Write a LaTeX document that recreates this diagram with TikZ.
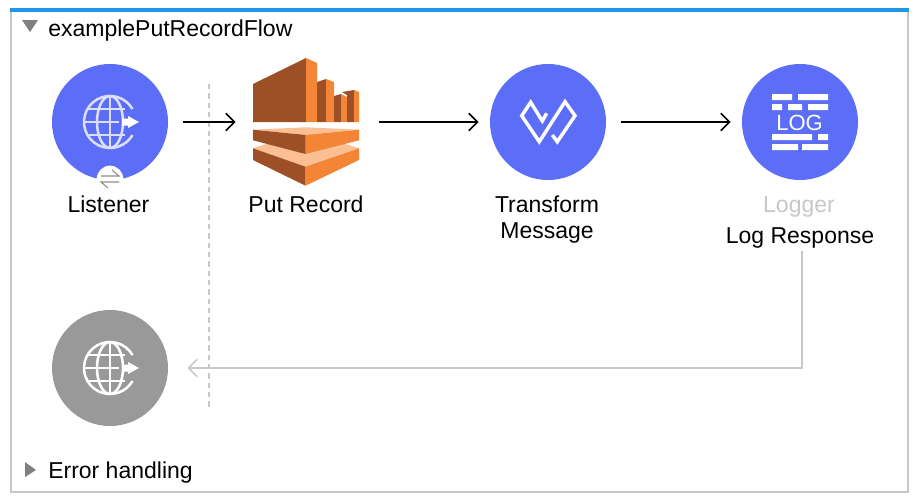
\documentclass[tikz,border=0pt]{standalone}
\usepackage{fontspec}
\setmainfont{Liberation Sans}
\usetikzlibrary{arrows.meta}
\definecolor{muleblue}{HTML}{5C6EF8}
\definecolor{framegray}{HTML}{C8C8C8}
\definecolor{topblue}{HTML}{2196E8}
\definecolor{awsdark}{HTML}{9D5025}
\definecolor{awslight}{HTML}{F58536}
\definecolor{awspale}{HTML}{FBBF93}
\tikzset{
	flownode/.style={circle,fill=muleblue,minimum size=87pt,inner sep=0pt},
	errornode/.style={flownode,fill=black!40},
	flowlabel/.style={font=\fontsize{17.25}{19.5}\selectfont,align=center,inner sep=0pt,anchor=base},
	flowarrow/.style={-{Straight Barb[length=6.5pt,width=13pt]},line width=1.3pt,shorten <=11.25pt,shorten >=8.25pt},
	returnarrow/.style={-{Straight Barb[length=6.5pt,width=13pt]},framegray,line width=1.3pt,shorten >=14.25pt},
	pics/globeicon/.style={code={
		\draw[line width=1.9pt,#1] (22.5,-13) arc[start angle=-30,end angle=-330,radius=26];
		\draw[line width=1.9pt,#1] (0,-26) arc[start angle=-90,end angle=-270,x radius=13,y radius=26];
		\draw[line width=1.9pt,#1] (0,-26) arc[start angle=-90,end angle=90,x radius=13,y radius=26];
		\draw[line width=1.9pt,#1] (0,-26) -- (0,26);
		\draw[line width=1.9pt,#1] (-26,0) -- (9,0);
		\draw[line width=1.9pt,#1] (-22,-13) -- (15,-13) (-22,13) -- (15,13);
	}},
}
\begin{document}
\begin{tikzpicture}[x=0.75pt,y=-0.75pt]
	\useasboundingbox (0,0) rectangle (918,500);
	\fill[white] (0,0) rectangle (918,500);
	% frame
	\draw[framegray,line width=1.5pt] (11,12) -- (11,492) -- (908,492) -- (908,12);
	\fill[topblue] (10,8) rectangle (909,12);
	\fill[black!50] (22,20) -- (38,20) -- (30,32) -- cycle;
	\fill[black!50] (25,462) -- (36,470) -- (25,477) -- cycle;
	\node[flowlabel,anchor=base west] (flowname) at (48,36) {examplePutRecordFlow};
	\node[flowlabel,anchor=base west] (errorname) at (48,478) {Error handling};
	% nodes
	\node[flownode] (listener) at (110,122) {};
	\node[errornode] (errorsource) at (110,368) {};
	\node[minimum width=79.5pt,minimum height=94pt,inner sep=0pt] (putrecord) at (306,122) {};
	\node[flownode] (transform) at (548,122) {};
	\node[flownode] (logger) at (800,122) {};
	\node[circle,fill=white,minimum size=20pt,inner sep=0pt] (badge) at (110,179) {};
	\node[flowlabel] (listenerlabel) at (108.5,212) {Listener};
	\node[flowlabel] (putrecordlabel) at (306,212) {Put Record};
	\node[flowlabel,anchor=north] (transformlabel) at (547,195.5) {Transform\\Message};
	\node[flowlabel,text=framegray] (loggerlabel) at (799,212) {Logger};
	\node[flowlabel] (responselabel) at (800,243) {Log Response};
	% icons
	\draw[black!45,line width=0.8pt] (101,176) -- (119,176) -- (112,170) (119,182) -- (101,182) -- (108,188);
	\pic at (110,122) {globeicon=white!78!muleblue};
	\pic at (110,368) {globeicon=white};
	\fill[white] (122,118.5) -- (128,118.5) -- (128,116) -- (139,122) -- (128,128) -- (128,125.5) -- (122,125.5) -- cycle;
	\fill[white] (122,364.5) -- (128,364.5) -- (128,362) -- (139,368) -- (128,374) -- (128,371.5) -- (122,371.5) -- cycle;
	% kinesis
	\fill[awsdark] (253,84) -- (306,58) -- (306,122) -- (253,122) -- cycle;
	\fill[awslight] (306,58) -- (317,63) -- (317,122) -- (306,122) -- cycle;
	\fill[awsdark] (317,82) -- (326,79) -- (326,122) -- (317,122) -- cycle;
	\fill[awslight] (326,79) -- (334,82) -- (334,122) -- (326,122) -- cycle;
	\fill[awsdark] (334,96) -- (341,94) -- (341,122) -- (334,122) -- cycle;
	\fill[awslight] (341,94) -- (347,97) -- (347,122) -- (341,122) -- cycle;
	\fill[awsdark] (342,92) -- (354,90) -- (354,122) -- (347,122) -- (347,95) -- cycle;
	\fill[awslight] (354,90) -- (359,92) -- (359,122) -- (354,122) -- cycle;
	\fill[awspale] (253,148.3) -- (305.5,131) -- (359,148.3) -- (305.5,166.7) -- cycle;
	\fill[awsdark] (253,148.3) -- (305.5,166.7) -- (305.5,185.7) -- (253,160) -- cycle;
	\fill[awslight] (359,148.3) -- (305.5,166.7) -- (305.5,185.7) -- (359,160) -- cycle;
	\fill[awspale] (253,129.7) -- (305.5,127.3) -- (359,129.7) -- (305.5,135) -- cycle;
	\fill[awsdark] (253,129.7) -- (305.5,135) -- (305.5,154) -- (253,140.3) -- cycle;
	\fill[awslight] (359,129.7) -- (305.5,135) -- (305.5,154) -- (359,140.3) -- cycle;
	% transform
	\draw[white,line width=2.6pt,miter limit=4] (546.7,113.3) -- (542.3,121) -- (530.7,102.3) -- (521.7,115.7) -- (539.3,141.7) -- (565,101.7) -- (575,115.7) -- (557.3,141.7) -- (552.3,135);
	% logger
	\fill[white] (772,94) rectangle (792,100) (798,94) rectangle (828,100);
	\fill[white] (772,104) rectangle (782,110) (788,104) rectangle (802,110) (808,104) rectangle (828,110);
	\fill[white] (772,134) rectangle (812,140) (818,134) rectangle (828,140);
	\fill[white] (772,144) rectangle (798,150) (802,144) rectangle (828,150);
	\node[text=white,font=\fontsize{16.5}{19}\selectfont,inner sep=0pt] (logword) at (799.5,122.5) {LOG};
	% connectors
	\draw[framegray,line width=1pt,dash pattern=on 4pt off 3pt] (209,84) -- (209,407);
	\draw[flowarrow,shorten >=12.75pt] (listener) -- (putrecord);
	\draw[flowarrow,shorten <=15pt] (putrecord) -- (transform);
	\draw[flowarrow] (transform) -- (logger);
	\coordinate (returnstart) at (802,251);
	\draw[returnarrow] (returnstart) |- (errorsource);
\end{tikzpicture}
\end{document}
